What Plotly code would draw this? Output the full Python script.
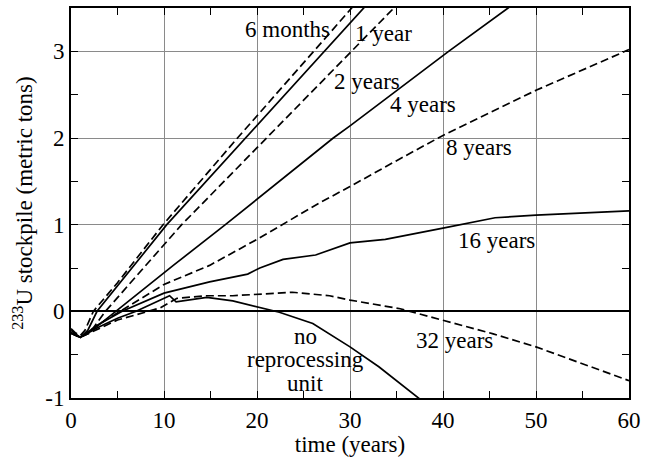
import plotly.graph_objects as go

# ---- data ----
t_6m = [0, 0.5, 1, 1.5, 2.4, 5, 9.9, 17.9, 26.1, 30.1, 31]
y_6m = [-0.2, -0.25, -0.28, -0.22, 0, 0.33, 1.0, 2.0, 3.0, 3.5, 3.6]

t_1y = [0, 1, 1.8, 2.8, 10.3, 18.8, 27.3, 31.5, 33]
y_1y = [-0.22, -0.3, -0.22, 0, 1.0, 2.0, 3.0, 3.5, 3.68]

t_2y = [0, 1, 2, 3.7, 11.9, 21, 30.2, 34.7, 36]
y_2y = [-0.25, -0.3, -0.25, 0, 1.0, 2.0, 3.0, 3.5, 3.64]

t_4y = [0, 1, 2.5, 4.8, 11.0, 16.6, 20.45, 28.2, 30, 40.6, 47.0, 48]
y_4y = [-0.25, -0.3, -0.2, 0, 0.53, 1.0, 1.33, 2.0, 2.14, 3.0, 3.5, 3.58]

t_8y = [0, 1, 3, 5.3, 10, 14.9, 20, 26.7, 30, 35.2, 40, 50, 60]
y_8y = [-0.25, -0.3, -0.15, 0, 0.31, 0.53, 0.83, 1.25, 1.44, 1.75, 2.03, 2.55, 3.02]

t_16y = [0, 1, 3, 5.5, 10, 14.9, 19, 20.3, 22.8, 26.3, 30, 33.8, 40, 45.6, 50, 60]
y_16y = [-0.25, -0.3, -0.15, 0, 0.21, 0.34, 0.43, 0.5, 0.6, 0.65, 0.79, 0.83, 0.96, 1.08, 1.11, 1.16]

t_32y = [0, 1, 3, 5, 8, 9.6, 11.4, 14.6, 17.4, 21, 23.8, 27.8, 30, 35.4, 40, 45.4, 50, 60]
y_32y = [-0.25, -0.3, -0.2, -0.1, -0.01, 0.04, 0.15, 0.18, 0.18, 0.2, 0.22, 0.18, 0.13, 0.03, -0.1, -0.26, -0.41, -0.8]

t_none = [0, 1, 3, 5, 7, 9, 10.6, 11.3, 12, 14.6, 17.4, 20, 22.4, 26, 30, 33.1, 37.2, 37.6]
y_none = [-0.25, -0.3, -0.18, -0.08, 0, 0.1, 0.18, 0.11, 0.12, 0.16, 0.12, 0.05, -0.01, -0.14, -0.41, -0.64, -0.98, -1.02]

series_names = ["6 months", "1 year", "2 years", "4 years", "8 years", "16 years", "32 years", "no reprocessing unit"]
series_t = [t_6m, t_1y, t_2y, t_4y, t_8y, t_16y, t_32y, t_none]
series_y = [y_6m, y_1y, y_2y, y_4y, y_8y, y_16y, y_32y, y_none]

x_ticks = [0, 10, 20, 30, 40, 50, 60]
x_ticklabels = ["0", "10", "20", "30", "40", "50", "60"]
y_ticks = [-1, 0, 1, 2, 3]
y_ticklabels = ["-1", "0", "1", "2", "3"]

# ---- styles ----
dashed = {"6 months", "2 years", "8 years", "32 years"}
FONT = "Liberation Serif, Times New Roman, serif"

fig = go.Figure()
for name, t, y in zip(series_names, series_t, series_y):
    fig.add_trace(go.Scatter(
        x=t, y=y, mode="lines", name=name,
        line=dict(color="black", width=1.7,
                  dash="8px,4px" if name in dashed else "solid"),
        showlegend=False, hoverinfo="skip"))

# curve labels (text, x, y)
labels = [
    ("6 months", 23.3, 3.25),
    ("1 year", 33.6, 3.21),
    ("2 years", 31.8, 2.65),
    ("4 years", 37.9, 2.39),
    ("8 years", 43.9, 1.89),
    ("16 years", 45.8, 0.82),
    ("32 years", 41.2, -0.34),
    ("no", 25.2, -0.29),
    ("reprocessing", 25.2, -0.56),
    ("unit", 25.2, -0.83),
]
for txt, lx, ly in labels:
    fig.add_annotation(x=lx, y=ly, xref="x", yref="y", text=txt, showarrow=False,
                       font=dict(family=FONT, size=23, color="black"))

axis_common = dict(
    showline=True, linecolor="black", linewidth=2, mirror="allticks",
    ticks="inside", ticklen=7, tickcolor="black", tickwidth=1,
    showgrid=True, gridcolor="#8a8a8a", gridwidth=1,
    tickfont=dict(family=FONT, size=23, color="black"),
)

fig.update_xaxes(
    range=[0, 60], tickvals=x_ticks, ticktext=x_ticklabels,
    zeroline=False,
    minor=dict(dtick=5, tick0=0, ticks="inside", ticklen=7, tickcolor="black", showgrid=False),
    title=dict(text="time (years)", font=dict(family=FONT, size=23, color="black"), standoff=0),
    **axis_common)
fig.update_yaxes(
    range=[-1, 3.5], tickvals=y_ticks, ticktext=y_ticklabels,
    zeroline=True, zerolinecolor="black", zerolinewidth=2,
    minor=dict(dtick=0.5, tick0=0, ticks="inside", ticklen=7, tickcolor="black", showgrid=False),
    title=dict(text="<sup>233</sup>U stockpile (metric tons)",
               font=dict(family=FONT, size=23, color="black"), standoff=6),
    **axis_common)

fig.update_layout(
    width=647, height=457,
    margin=dict(l=71, r=15, t=6, b=59),
    paper_bgcolor="white", plot_bgcolor="white",
)

fig.write_html("out.html")
